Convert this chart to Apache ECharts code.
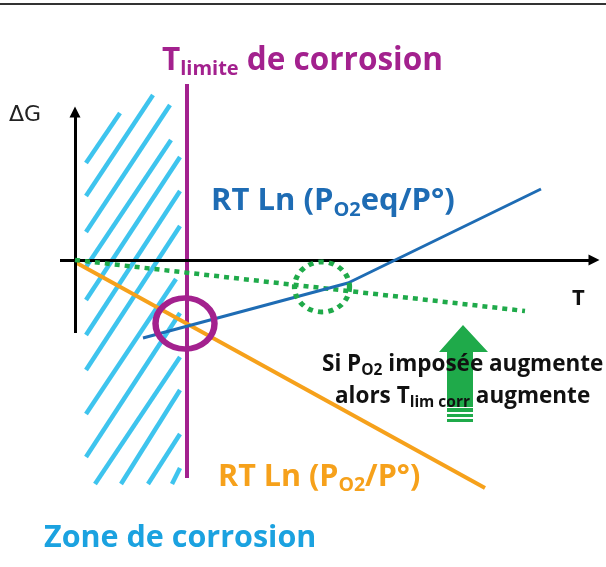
<!DOCTYPE html>
<html><head><meta charset="utf-8">
<script src="https://cdn.jsdelivr.net/npm/echarts@6/dist/echarts.min.js"></script>
<style>html,body{margin:0;padding:0;background:#fff}#c{width:606px;height:567px}</style>
</head><body><div id="c"></div>
<script>
// Diagram coordinates: T (horizontal), ΔG (vertical), origin at the axes crossing (arbitrary units)
const tAxis = [[-15, 0], [519, 0]];
const gAxis = [[0, -73], [0, 148]];
const tLimite = [[112, 176], [112, -218]];
const rtLnPO2 = [[0, -2], [410, -228]];              // orange
const rtLnPO2eq = [[68, -78], [273, -23], [466, 71]]; // blue
const rtLnPO2High = [[0, 0], [450, -51]];            // green dotted
const crossLimite = [[110, -63.5]];                  // magenta circle centre
const crossHigh = [[247, -27]];                      // green dotted circle centre
const arrowPoly = [[388, -65], [413, -92], [398, -92], [398, -147], [372, -147], [372, -92], [364, -92]];
const arrowStripes = [
  [[372, -148], [398, -148], [398, -152], [372, -152]],
  [[372, -154], [398, -154], [398, -157], [372, -157]],
  [[372, -159], [398, -159], [398, -162], [372, -162]]
];
const hatch = [
  [[11, 97], [45, 147]], [[11, 64], [78, 165]], [[11, 28], [95, 155]], [[11, -7], [96, 120]],
  [[11, -40], [105, 103]], [[11, -75], [105, 69]], [[11, -110], [105, 34]], [[11, -154], [101, -19]],
  [[11, -197], [105, -53]], [[20, -224], [105, -97]], [[46, -224], [105, -130]], [[73, -224], [105, -174]],
  [[97, -224], [105, -208]]
];

const MAG = '#A3218E', ORA = '#F6A11B', BLU = '#1E6CB4', GRN = '#1FAA4A', HAT = '#3EC4EE';
const FONT = '"Open Sans"';

const chart = echarts.init(document.getElementById('c'));
function rich(color, size, sub, drop) {
  return {
    m: {fontFamily: FONT, fontWeight: 'bold', fontSize: size, fill: color, lineHeight: size + 6},
    s: {fontFamily: FONT, fontWeight: 'bold', fontSize: sub, fill: color, lineHeight: size + 6 - drop, verticalAlign: 'bottom'}
  };
}
chart.setOption({
  animation: false,
  grid: {left: 0, right: 0, top: 0, bottom: 0},
  xAxis: {type: 'value', min: -75, max: 531, show: false},
  yAxis: {type: 'value', min: -307, max: 260, show: false},
  graphic: [
    {type: 'line', shape: {x1: 0, y1: 4, x2: 606, y2: 4}, style: {stroke: '#333', lineWidth: 2}},
    {type: 'text', left: 162, top: 45, z: 100, style: {text: '{m|T}{s|limite}{m| de corrosion}', rich: rich(MAG, 31.5, 20, 18)}},
    {type: 'text', left: 9, top: 104, z: 100, style: {text: 'ΔG', font: '22px "DejaVu Sans"', fill: '#222'}},
    {type: 'text', left: 572, top: 288, z: 100, style: {text: 'T', font: 'bold 22px "Open Sans"', fill: '#111'}},
    {type: 'text', left: 211, top: 186, z: 100, style: {text: '{m|RT Ln (P}{s|O2}{m|eq/P°)}', rich: rich(BLU, 31, 20, 22)}},
    {type: 'text', left: 218, top: 462, z: 100, style: {text: '{m|RT Ln (P}{s|O2}{m|/P°)}', rich: rich(ORA, 30.5, 19.5, 23)}},
    {type: 'text', left: 322, top: 353, z: 100, style: {text: '{m|Si P}{s|O2}{m| imposée augmente}', rich: rich('#111', 22.5, 15.5, 12)}},
    {type: 'text', left: 335, top: 385, z: 100, style: {text: '{m|alors T}{s|lim corr}{m| augmente}', rich: rich('#111', 22.5, 15.5, 12)}},
    {type: 'text', left: 44, top: 523, z: 100, style: {text: 'Zone de corrosion', font: 'bold 30.5px "Open Sans"', fill: '#1BA2E0'}}
  ],
  series: [
    {type: 'lines', coordinateSystem: 'cartesian2d', z: 1, silent: true,
     lineStyle: {color: HAT, width: 4.5, opacity: 1},
     data: hatch.map(s => ({coords: s}))},
    {type: 'line', data: tAxis, symbol: 'none', z: 2, silent: true, lineStyle: {width: 0},
     markLine: {silent: true, symbol: ['none', 'triangle'], symbolSize: [11, 11], label: {show: false},
       lineStyle: {color: '#000', width: 3, type: 'solid'},
       data: [[{coord: tAxis[0]}, {coord: tAxis[1]}], [{coord: gAxis[0]}, {coord: gAxis[1]}]]}},
    {type: 'line', data: tLimite, symbol: 'none', z: 3, lineStyle: {color: MAG, width: 4}},
    {type: 'line', data: rtLnPO2, symbol: 'none', z: 4, lineStyle: {color: ORA, width: 4}},
    {type: 'line', data: rtLnPO2High, symbol: 'none', z: 5, lineStyle: {color: GRN, width: 4.5, type: [5, 5]}},
    {type: 'line', data: rtLnPO2eq, symbol: 'none', z: 6, lineStyle: {color: BLU, width: 3}},
    {type: 'scatter', data: crossLimite, z: 7, symbol: 'circle', symbolSize: [59, 51], silent: true,
     itemStyle: {color: 'rgba(0,0,0,0)', borderColor: MAG, borderWidth: 6, opacity: 1}},
    {type: 'scatter', data: crossHigh, z: 7, symbol: 'circle', symbolSize: [55, 50], silent: true,
     itemStyle: {color: 'rgba(0,0,0,0)', borderColor: GRN, borderWidth: 5, borderType: [5, 5], opacity: 1}},
    {type: 'custom', z: 8, data: [0], silent: true,
     renderItem: (params, api) => ({
       type: 'group',
       children: [arrowPoly].concat(arrowStripes).map(poly => ({
         type: 'polygon', shape: {points: poly.map(p => api.coord(p))}, style: {fill: GRN}
       }))
     })}
  ]
});
</script></body></html>
